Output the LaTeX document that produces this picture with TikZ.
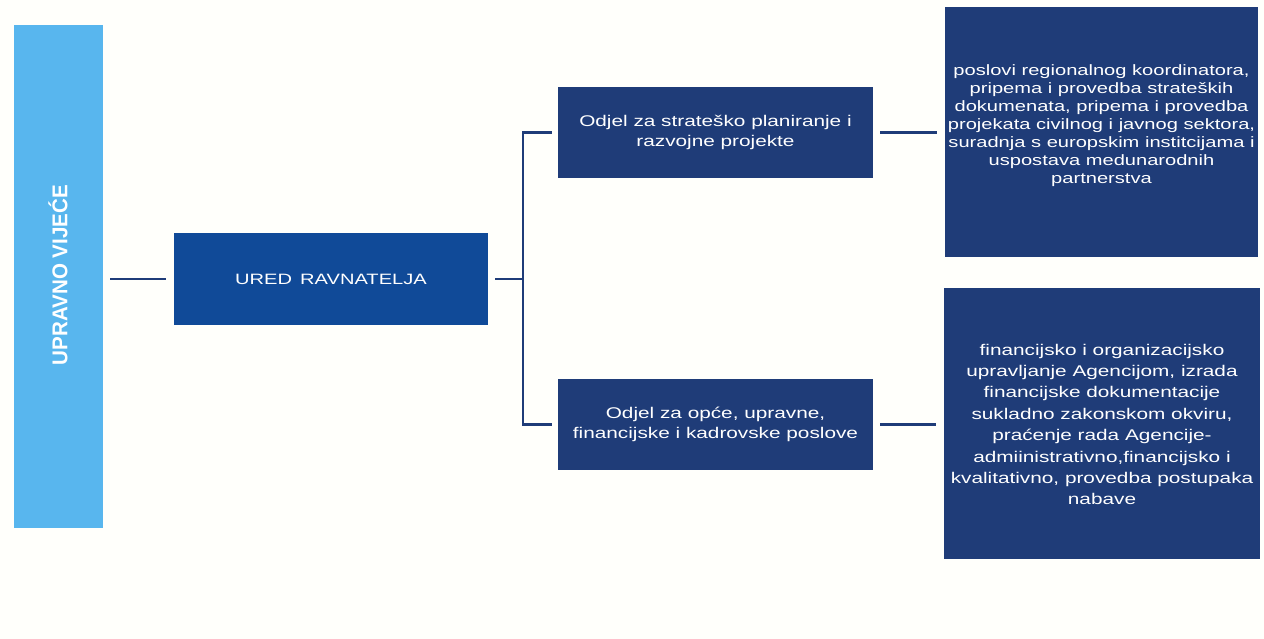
\documentclass[tikz,border=0pt]{standalone}
\usepackage{fontspec}
\setmainfont{Liberation Sans}
\newfontfamily\widefont[FakeStretch=1.34]{Liberation Sans}
\usetikzlibrary{calc}
\definecolor{navy}{HTML}{1F3C78}
\definecolor{uredblue}{HTML}{104A98}
\definecolor{lightblue}{HTML}{58B6EE}
\definecolor{bgc}{HTML}{FFFFFB}
\tikzset{
  dbox/.style={fill=navy, draw=none, text=white, align=center, inner sep=0pt},
  wtext/.style={text=white, align=center, inner sep=0pt},
  conn/.style={draw=navy, line width=2.6pt},
}
\begin{document}
\begin{tikzpicture}[x=1pt,y=-1pt]
\fill[bgc] (0,0) rectangle (1264,639);
\useasboundingbox (0,0) rectangle (1264,639);
% nodes
\node[fill=lightblue, minimum width=89pt, minimum height=503pt, inner sep=0pt] (uv) at (58.5,276.5) {};
\node[rotate=90, text=white, inner sep=0pt] (uvt) at (58,275) {\resizebox{180pt}{19pt}{\bfseries UPRAVNO VIJEĆE}};
\node[dbox, fill=uredblue, minimum width=314pt, minimum height=92pt, font=\widefont\fontsize{15}{18}\selectfont] (ured) at (331,279) {URED\, RAVNATELJA};
\node[dbox, minimum width=315pt, minimum height=91pt, font=\widefont\fontsize{15.5}{20}\selectfont] (o1) at (715.5,132.5) {Odjel za strateško planiranje i\\razvojne projekte};
\node[dbox, minimum width=315pt, minimum height=91pt, font=\widefont\fontsize{15.5}{20}\selectfont] (o2) at (715.5,424.5) {Odjel za opće, upravne,\\financijske i kadrovske poslove};
\node[dbox, minimum width=313pt, minimum height=250pt] (r1) at (1101.5,132) {};
\node[wtext, font=\widefont\fontsize{15}{18}\selectfont] (r1t) at ($(r1.center)+(0,-6)$) {poslovi regionalnog koordinatora,\\pripema i provedba strateških\\dokumenata, pripema i provedba\\projekata civilnog i javnog sektora,\\suradnja s europskim institcijama i\\uspostava medunarodnih\\partnerstva};
\node[dbox, minimum width=316pt, minimum height=271pt] (r2) at (1102,423.5) {};
\node[wtext, font=\widefont\fontsize{15.5}{21.4}\selectfont] (r2t) at ($(r2.center)+(0,1)$) {financijsko i organizacijsko\\upravljanje Agencijom, izrada\\financijske dokumentacije\\sukladno zakonskom okviru,\\praćenje rada Agencije-\\admiinistrativno,financijsko i\\kvalitativno, provedba postupaka\\nabave};
% connectors
\coordinate (j) at (523,279);
\draw[conn, shorten <=7pt, shorten >=8pt] (uv.east |- ured.west) -- (ured.west);
\draw[conn, shorten <=7pt] (ured.east) -- (j);
\draw[conn, shorten <=6pt] (o1.west) -| (j);
\draw[conn, shorten <=6pt] (o2.west) -| (j);
\draw[conn, shorten <=7pt, shorten >=8pt] (o1.east) -- (o1.east -| r1.west);
\draw[conn, shorten <=7pt, shorten >=8pt] (o2.east) -- (o2.east -| r2.west);
\end{tikzpicture}
\end{document}
